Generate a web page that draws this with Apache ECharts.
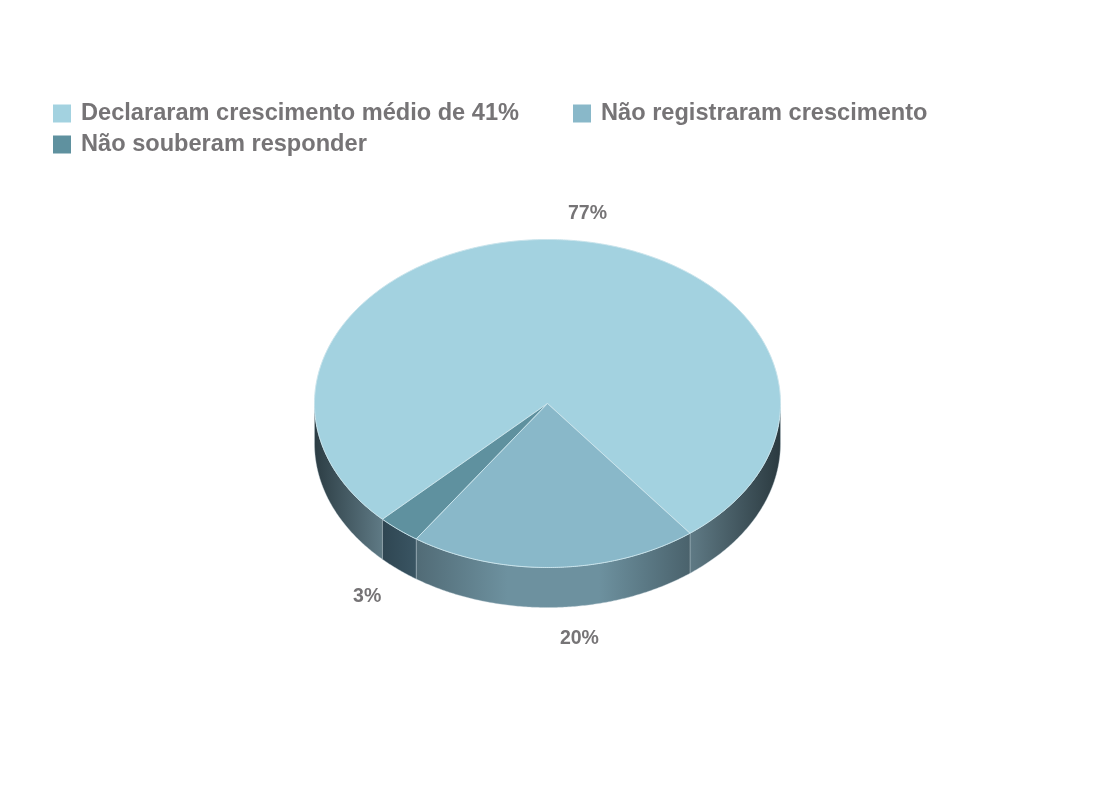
<!DOCTYPE html>
<html>
<head>
<meta charset="utf-8">
<style>html,body{margin:0;padding:0;background:#fff}#c{width:1095px;height:805px}</style>
<script src="https://cdn.jsdelivr.net/npm/echarts@6/dist/echarts.min.js"></script>
</head>
<body>
<div id="c"></div>
<script>
const categories = ['Declararam crescimento médio de 41%', 'Não registraram crescimento', 'Não souberam responder'];
const shares = [77, 20, 3];
const colors = ['#a3d2e0', '#89b8c9', '#5f919f'];
const wallStops = [
  [['#2c3d44', '#5f7a85'], ['#5f7a85', '#2b3a40']],
  [['#516b76', '#6d919f', '#6d919f', '#4a626c']],
  [['#2f4652', '#3a5563']]
];
const labelOffsets = [[25, -26.5], [25, 31], [-31.5, 27]];

const geo = { cx: 547.5, cy: 403.5, rx: 233, ry: 164, depth: 40, start: 135.1 };
const FONT = '"Liberation Sans", Arial, sans-serif';
const rad = d => d * Math.PI / 180;
const pt = (a, dy) => [geo.cx + geo.rx * Math.cos(rad(a)), geo.cy + (dy || 0) + geo.ry * Math.sin(rad(a))];
function arc(a0, a1, dy) {
  const out = [], n = Math.max(2, Math.ceil(Math.abs(a1 - a0) * 2));
  for (let i = 0; i <= n; i++) out.push(pt(a0 + (a1 - a0) * i / n, dy));
  return out;
}
function sliceRange(idx) {
  let s = geo.start;
  const total = shares.reduce((a, b) => a + b, 0);
  for (let i = 0; i < idx; i++) s += shares[i] / total * 360;
  return [s, s + shares[idx] / total * 360];
}
// front-facing parts of a slice (angles where sin > 0, i.e. 0..180 modulo 360)
function frontParts(a0, a1) {
  const parts = [];
  for (const k of [0, 360, 720]) {
    const lo = Math.max(a0, k), hi = Math.min(a1, k + 180);
    if (hi > lo) parts.push([lo, hi]);
  }
  return parts;
}
function renderSlice(idx) {
  return function () {
    const [a0, a1] = sliceRange(idx);
    const children = [];
    const parts = frontParts(a0, a1).sort((p, q) => pt(p[0])[0] - pt(q[0])[0]);
    parts.forEach((p) => {
      const topEdge = arc(p[0], p[1]);
      const botEdge = arc(p[1], p[0], geo.depth);
      const xs = topEdge.map(v => v[0]);
      const minX = Math.min.apply(null, xs), maxX = Math.max.apply(null, xs);
      // pick the gradient for this wall from the stop lists
      const leftSide = (minX + maxX) / 2 < geo.cx;
      const stops = idx === 0 ? wallStops[0][leftSide ? 0 : 1] : wallStops[idx][0];
      children.push({
        type: 'polygon',
        shape: { points: topEdge.concat(botEdge) },
        style: {
          fill: {
            type: 'linear', x: minX, y: 0, x2: maxX, y2: 0, global: true,
            colorStops: stops.map((c, i) => ({ offset: i / (stops.length - 1), color: c }))
          },
          stroke: 'rgba(190,205,212,0.55)', lineWidth: 0.7
        }
      });
    });
    children.push({
      type: 'polygon',
      shape: { points: [[geo.cx, geo.cy]].concat(arc(a0, a1)) },
      style: { fill: colors[idx], stroke: '#c9e4ec', lineWidth: 1 }
    });
    const mid = (a0 + a1) / 2;
    const front = Math.sin(rad(mid)) > 0;
    const anchor = pt(mid, front ? geo.depth : 0);
    children.push({
      type: 'text',
      z2: 10,
      style: {
        x: anchor[0] + labelOffsets[idx][0],
        y: anchor[1] + labelOffsets[idx][1],
        text: shares[idx] + '%',
        fill: '#767476',
        font: 'bold 19.5px ' + FONT,
        align: 'center',
        verticalAlign: 'middle'
      }
    });
    return { type: 'group', children };
  };
}

const chart = echarts.init(document.getElementById('c'), null, { renderer: 'canvas' });
const legendText = { color: '#767476', fontSize: 23.6, fontWeight: 'bold', fontFamily: FONT, padding: [0, 0, 0, 5] };
chart.setOption({
  animation: false,
  backgroundColor: '#fff',
  legend: [
    { data: [categories[0], categories[1]], left: 53, top: 101.5, padding: 0, icon: 'rect',
      itemWidth: 18, itemHeight: 18, itemGap: 54, textStyle: legendText },
    { data: [categories[2]], left: 53, top: 132.5, padding: 0, icon: 'rect',
      itemWidth: 18, itemHeight: 18, textStyle: legendText }
  ],
  series: categories.map((name, i) => ({
    type: 'custom',
    name,
    coordinateSystem: 'none',
    itemStyle: { color: colors[i] },
    data: [shares[i]],
    silent: true,
    renderItem: renderSlice(i)
  }))
});
</script>
</body>
</html>
